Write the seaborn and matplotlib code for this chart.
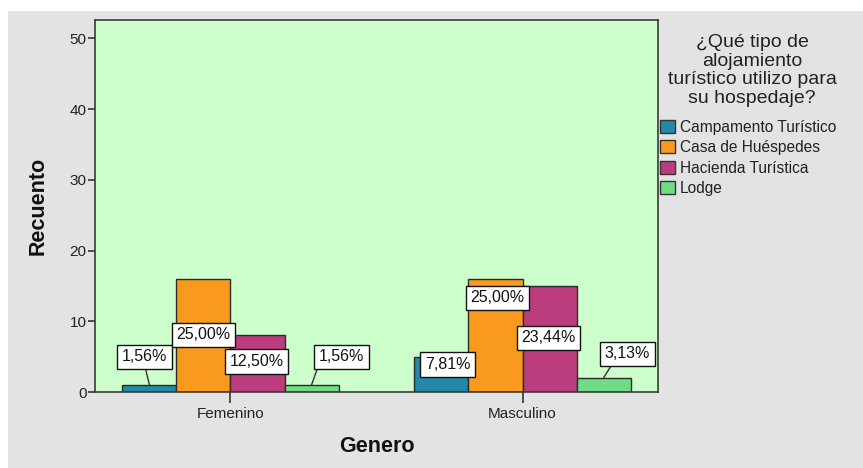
import numpy as np
import pandas as pd
import matplotlib
matplotlib.use('Agg')
import matplotlib.pyplot as plt
from matplotlib.patches import Patch, Rectangle
import seaborn as sns
from decimal import Decimal, ROUND_HALF_UP

# data
generos = ["Femenino", "Masculino"]
tipos = ["Campamento Turístico", "Casa de Huéspedes", "Hacienda Turística", "Lodge"]
femenino = [1, 16, 8, 1]
masculino = [5, 16, 15, 2]
colores = ["#2389a8", "#f99a1f", "#bc3d7d", "#70dc85"]

# label offsets (pixels, relative to bar top centre) per genero, per tipo
label_offsets = [
    [(-5, 28), (0, -56), (-1, -26), (30, 28)],
    [(6, -8), (2, -19), (-1, -52), (24, 24)],
]
label_relpos = [
    [(0.5, 0), None, None, (0.0, 0)],
    [None, None, None, (0.2, 0)],
]

plt.rcParams['font.family'] = ['Liberation Sans', 'DejaVu Sans']

df = pd.DataFrame({
    "Genero": np.repeat(generos, len(tipos)),
    "Tipo": tipos * len(generos),
    "Recuento": femenino + masculino,
})
total = df["Recuento"].sum()

fig = plt.figure(figsize=(8.63, 4.68), dpi=100)
fig.patch.set_facecolor("white")
fig.patches.append(Rectangle((8 / 863, 0), 855 / 863, 457 / 468, transform=fig.transFigure,
                             facecolor="#e3e3e3", edgecolor="none", zorder=-10))

ax = fig.add_axes([95 / 863, 76 / 468, 563 / 863, 372 / 468])
ax.set_facecolor("#ccffcc")

sns.barplot(data=df, x="Genero", y="Recuento", hue="Tipo", order=generos, hue_order=tipos,
            palette=colores, saturation=1, width=0.74, edgecolor="#2b2b2b", linewidth=1,
            errorbar=None, legend=False, ax=ax)

ax.set_xlim(-0.464, 1.464)
ax.set_ylim(0, 52.6)
ax.set_yticks([0, 10, 20, 30, 40, 50])
ax.tick_params(axis="y", direction="out", length=5, width=1.2, color="#333333",
               labelsize=11, labelcolor="#222222", pad=1)
ax.tick_params(axis="x", direction="out", length=8, width=1.2, color="#333333",
               labelsize=11, labelcolor="#222222", pad=3)
for s in ax.spines.values():
    s.set_color("#3a3a3a")
    s.set_linewidth(1.2)

ax.set_xlabel("Genero", fontsize=15.5, fontweight="bold", color="#111111")
ax.xaxis.set_label_coords(0.5, (392 - 447) / 372)
ax.xaxis.label.set_va("center")
ax.set_ylabel("Recuento", fontsize=15.5, fontweight="bold", color="#111111")
ax.yaxis.set_label_coords((38 - 95) / 563, 0.5)
ax.yaxis.label.set_va("center")

# percentage boxes
for i, cont in enumerate(ax.containers):
    for j, bar in enumerate(cont):
        val = bar.get_height()
        pct = Decimal(val * 100 / total).quantize(Decimal("0.01"), rounding=ROUND_HALF_UP)
        txt = f"{pct}%".replace(".", ",")
        dx, dy = label_offsets[j][i]
        rp = label_relpos[j][i]
        arrow = None
        if rp is not None:
            arrow = dict(arrowstyle="-", color="#333333", lw=1, relpos=rp, shrinkA=0, shrinkB=0)
        ax.annotate(txt, xy=(bar.get_x() + bar.get_width() / 2, val), xytext=(dx, dy),
                    textcoords="offset pixels", ha="center", va="center", fontsize=11.5,
                    color="#111111", arrowprops=arrow,
                    bbox=dict(boxstyle="square,pad=0.3", facecolor="white",
                              edgecolor="#111111", linewidth=1))

# legend
fig.text(752 / 863, 1 - 34 / 468, "¿Qué tipo de\nalojamiento\nturístico utilizo para\nsu hospedaje?",
         ha="center", va="top", fontsize=14, linespacing=1.13, color="#222222")
handles = [Patch(facecolor=c, edgecolor="#333333", linewidth=1, label=t) for c, t in zip(colores, tipos)]
fig.legend(handles=handles, loc="upper left", bbox_to_anchor=(660 / 863, 1 - 120 / 468),
           frameon=False, fontsize=11.2, handlelength=0.97, handleheight=0.91,
           handletextpad=0.33, labelspacing=0.34, borderpad=0, borderaxespad=0,
           labelcolor="#222222")

fig.savefig("out.png", dpi=100)
